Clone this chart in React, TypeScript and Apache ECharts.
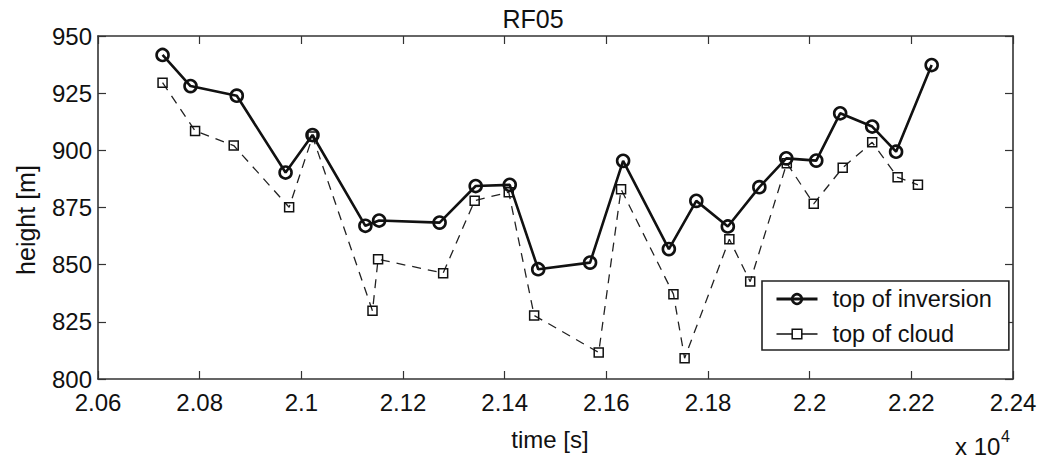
import React, { useEffect, useRef } from "react";
import * as echarts from "echarts";

const inversionTime = [20727, 20782, 20873, 20969, 21022, 21126, 21153, 21272, 21343, 21410, 21466, 21568, 21633, 21723, 21777, 21839, 21901, 21954, 22013, 22060, 22123, 22170, 22240];
const inversionHeight = [941.7, 928.1, 923.9, 890.3, 906.7, 867.0, 869.3, 868.4, 884.4, 884.9, 848.0, 850.9, 895.4, 856.8, 877.9, 866.7, 883.9, 896.5, 895.5, 916.2, 910.4, 899.4, 937.3];
const cloudTime = [20727, 20791, 20867, 20976, 21022, 21140, 21151, 21279, 21341, 21408, 21458, 21585, 21629, 21732, 21754, 21842, 21883, 21955, 22008, 22065, 22123, 22173, 22213];
const cloudHeight = [929.6, 908.5, 902.1, 875.1, 906.0, 829.8, 852.4, 846.3, 878.0, 881.7, 827.8, 811.6, 883.0, 837.1, 809.1, 861.1, 842.6, 894.4, 876.6, 892.4, 903.5, 888.2, 884.9];
const seriesNames = ["top of inversion", "top of cloud"];
const title = "RF05";
const xName = "time [s]";
const yName = "height [m]";
const xScaleBase = "x 10";
const xScaleExp = "4";

const FONT = "Liberation Sans";
const INK = "#111";

export default function App() {
  const ref = useRef<HTMLDivElement>(null);
  useEffect(() => {
    if (!ref.current) return;
    const chart = echarts.init(ref.current, null, { renderer: "svg" });
    const axisLine = { show: true, lineStyle: { color: "#333", width: 1.6 } };
    const tickIn = { show: true, inside: true, length: 8, lineStyle: { color: "#333", width: 1.2 } };
    chart.setOption({
      animation: false,
      backgroundColor: "#fff",
      title: {
        text: title,
        left: 533,
        top: 6,
        padding: 0,
        textAlign: "center",
        textStyle: { fontFamily: FONT, fontSize: 25, fontWeight: "normal", color: INK, lineHeight: 25 },
      },
      grid: { left: 98, right: 45, top: 36, bottom: 80 },
      legend: {
        orient: "vertical",
        left: 762,
        top: 281,
        padding: [6, 17, 4, 13],
        itemGap: 11,
        itemWidth: 41,
        itemHeight: 12,
        backgroundColor: "#fff",
        borderColor: "#222",
        borderWidth: 1.6,
        borderRadius: 0,
        textStyle: { fontFamily: FONT, fontSize: 23.5, color: INK, lineHeight: 24, padding: [0, 0, 0, 10] },
        data: [
          {
            name: seriesNames[0],
            lineStyle: { color: INK, width: 3, type: "solid" },
            itemStyle: { color: "rgba(0,0,0,0)", borderColor: INK, borderWidth: 2.6 },
          },
          {
            name: seriesNames[1],
            lineStyle: { color: INK, width: 1.3, type: "solid" },
            itemStyle: { color: "#fff", borderColor: INK, borderWidth: 1.5 },
          },
        ],
      },
      xAxis: [
        {
          type: "value",
          min: 20600,
          max: 22400,
          interval: 200,
          position: "bottom",
          axisLine,
          axisTick: tickIn,
          splitLine: { show: false },
          axisLabel: {
            fontFamily: FONT,
            fontSize: 24,
            color: INK,
            margin: 11,
            formatter: (v: number) => String(parseFloat((v / 10000).toFixed(2))),
          },
          name: xName,
          nameLocation: "middle",
          nameGap: 48,
          nameTextStyle: { fontFamily: FONT, fontSize: 24, color: INK, padding: [0, 11, 0, 0] },
        },
        {
          type: "value",
          min: 20600,
          max: 22400,
          interval: 200,
          position: "top",
          axisLine,
          axisTick: tickIn,
          splitLine: { show: false },
          axisLabel: { show: false },
        },
      ],
      yAxis: [
        {
          type: "value",
          min: 800,
          max: 950,
          interval: 25,
          position: "left",
          axisLine,
          axisTick: tickIn,
          splitLine: { show: false },
          axisLabel: { fontFamily: FONT, fontSize: 24, color: INK, margin: 6 },
        },
        {
          type: "value",
          min: 800,
          max: 950,
          interval: 25,
          position: "right",
          axisLine,
          axisTick: tickIn,
          splitLine: { show: false },
          axisLabel: { show: false },
        },
      ],
      graphic: [
        {
          type: "text",
          x: 26,
          y: 220,
          rotation: Math.PI / 2,
          style: {
            text: yName,
            fontFamily: FONT,
            fontSize: 25,
            fill: INK,
            align: "center",
            verticalAlign: "middle",
          },
        },
        {
          type: "text",
          x: 955,
          y: 446,
          style: {
            text: xScaleBase,
            fontFamily: FONT,
            fontSize: 24,
            fill: INK,
            align: "left",
            verticalAlign: "middle",
          },
        },
        {
          type: "text",
          x: 1001,
          y: 436,
          style: {
            text: xScaleExp,
            fontFamily: FONT,
            fontSize: 16,
            fill: INK,
            align: "left",
            verticalAlign: "middle",
          },
        },
      ],
      series: [
        {
          name: seriesNames[0],
          type: "line",
          data: inversionTime.map((t, i) => [t, inversionHeight[i]]),
          symbol: "circle",
          symbolSize: 12,
          showAllSymbol: true,
          lineStyle: { color: INK, width: 2.6 },
          itemStyle: { color: "rgba(0,0,0,0)", borderColor: INK, borderWidth: 2.6 },
          z: 3,
        },
        {
          name: seriesNames[1],
          type: "line",
          data: cloudTime.map((t, i) => [t, cloudHeight[i]]),
          symbol: "rect",
          symbolSize: 9,
          showAllSymbol: true,
          lineStyle: { color: "#222", width: 1.3, type: [9, 7] },
          itemStyle: { color: "rgba(0,0,0,0)", borderColor: INK, borderWidth: 1.5 },
          z: 2,
        },
      ],
    });
    return () => chart.dispose();
  }, []);
  return <div ref={ref} style={{ position: "absolute", left: 0, top: 0, width: 1058, height: 459 }} />;
}
